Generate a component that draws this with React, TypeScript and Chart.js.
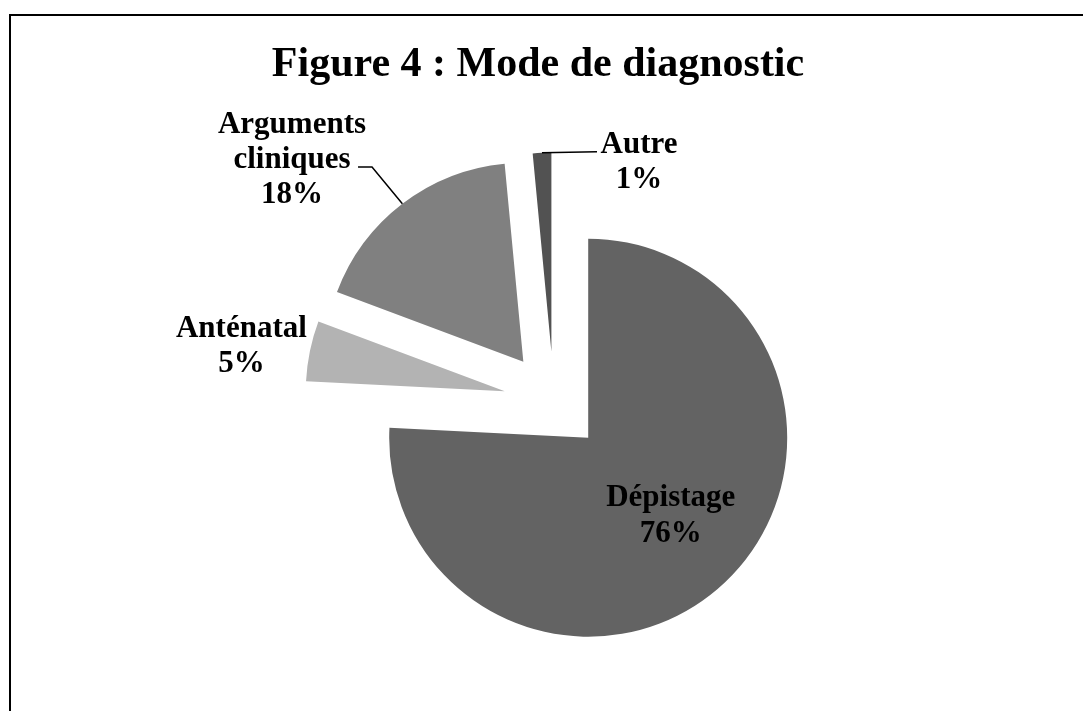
import React, { useEffect, useRef } from 'react';
import { Chart, PieController, ArcElement, registerables } from 'chart.js';

// ---- data ----
const categories = ['Dépistage', 'Anténatal', 'Arguments cliniques', 'Autre'];
const shares = [75.8, 4.9, 17.8, 1.5];
const percentLabels = ['76%', '5%', '18%', '1%'];
const chartTitle = 'Figure 4 : Mode de diagnostic';

// ---- style ----
const sliceColors = ['#636363', '#b3b3b3', '#808080', '#525252'];
const EXPLODE = 50;
const RADIUS = 199;
const FONT_FAMILY = '"Liberation Serif", "Times New Roman", serif';
const titleFont = `bold 42px ${FONT_FAMILY}`;
const titleCenterX = 538;
const titleBaseline = 76;
const labelFont = `bold 31px ${FONT_FAMILY}`;
const labelLineHeight = 35.4;
const labelWrap = [false, false, true, false];
const labelPlacement: { dx: number; dy: number; leader: number[][] | null }[] = [
  { dx: -54.6, dy: -75.8, leader: null },
  { dx: -68.5, dy: -14, leader: null },
  { dx: -110.35, dy: -71.1, leader: [[-30.35, -36.8], [-44.35, -36.8]] },
  { dx: 97, dy: 0, leader: [[55, -1]] },
];

class ExplodedArc extends ArcElement {
  static id = 'explodedArc';
  draw(ctx: CanvasRenderingContext2D) {
    const self: any = this;
    const saved: any = self.options;
    const shift = (saved && saved.offset) || 0;
    const mid = (self.startAngle + self.endAngle) / 2;
    self.options = { ...saved, offset: 0 };
    ctx.save();
    ctx.translate(Math.cos(mid) * shift, Math.sin(mid) * shift);
    super.draw(ctx);
    ctx.restore();
    self.options = saved;
  }
}

class ExplodedPieController extends PieController {
  static id = 'explodedPie';
  static defaults = { dataElementType: 'explodedArc' };
}

Chart.register(...registerables, ExplodedArc, ExplodedPieController);

const frameAndTitlePlugin = {
  id: 'frameAndTitle',
  beforeDraw(chart: any) {
    const ctx = chart.ctx as CanvasRenderingContext2D;
    ctx.save();
    ctx.fillStyle = '#000';
    ctx.fillRect(9, 14, chart.width, 2);
    ctx.fillRect(9, 14, 2, chart.height);
    ctx.font = titleFont;
    ctx.textAlign = 'center';
    ctx.textBaseline = 'alphabetic';
    ctx.fillText(chartTitle, titleCenterX, titleBaseline);
    ctx.restore();
  },
};

const sliceLabelPlugin = {
  id: 'sliceLabels',
  afterDatasetsDraw(chart: any) {
    const ctx = chart.ctx as CanvasRenderingContext2D;
    const meta = chart.getDatasetMeta(0);
    ctx.save();
    ctx.font = labelFont;
    ctx.fillStyle = '#000';
    ctx.strokeStyle = '#000';
    ctx.lineWidth = 1.5;
    ctx.textAlign = 'center';
    ctx.textBaseline = 'alphabetic';
    meta.data.forEach((arc: any, i: number) => {
      const p = arc.getProps(['x', 'y', 'startAngle', 'endAngle', 'outerRadius'], true);
      const mid = (p.startAngle + p.endAngle) / 2;
      const vx = p.x + Math.cos(mid) * EXPLODE;
      const vy = p.y + Math.sin(mid) * EXPLODE;
      const mx = vx + Math.cos(mid) * p.outerRadius;
      const my = vy + Math.sin(mid) * p.outerRadius;
      const pl = labelPlacement[i];
      if (pl.leader) {
        ctx.beginPath();
        ctx.moveTo(mx, my);
        pl.leader.forEach(([dx, dy]) => ctx.lineTo(mx + dx, my + dy));
        ctx.stroke();
      }
      const lines = labelWrap[i] ? categories[i].split(' ') : [categories[i]];
      lines.push(percentLabels[i]);
      lines.forEach((t, j) => {
        ctx.fillText(t, mx + pl.dx, my + pl.dy + j * labelLineHeight);
      });
    });
    ctx.restore();
  },
};

export default function App() {
  const ref = useRef<HTMLCanvasElement | null>(null);
  useEffect(() => {
    if (!ref.current) return;
    const chart = new Chart(ref.current, {
      type: 'explodedPie' as any,
      data: {
        labels: categories,
        datasets: [
          {
            data: shares,
            backgroundColor: sliceColors,
            borderWidth: 0,
            offset: EXPLODE,
            hoverOffset: 0,
            radius: RADIUS,
          } as any,
        ],
      },
      options: {
        responsive: false,
        animation: false,
        layout: { padding: { left: 24.5, right: 0, top: 92, bottom: 0 } },
        plugins: {
          legend: { display: false },
          tooltip: { enabled: false },
          title: { display: false },
        },
      } as any,
      plugins: [frameAndTitlePlugin, sliceLabelPlugin],
    });
    return () => chart.destroy();
  }, []);
  return (
    <div style={{ position: 'absolute', left: 0, top: 0, width: 1083, height: 711, overflow: 'hidden', background: '#fff' }}>
      <canvas ref={ref} width={1083} height={711} style={{ display: 'block' }} />
    </div>
  );
}
